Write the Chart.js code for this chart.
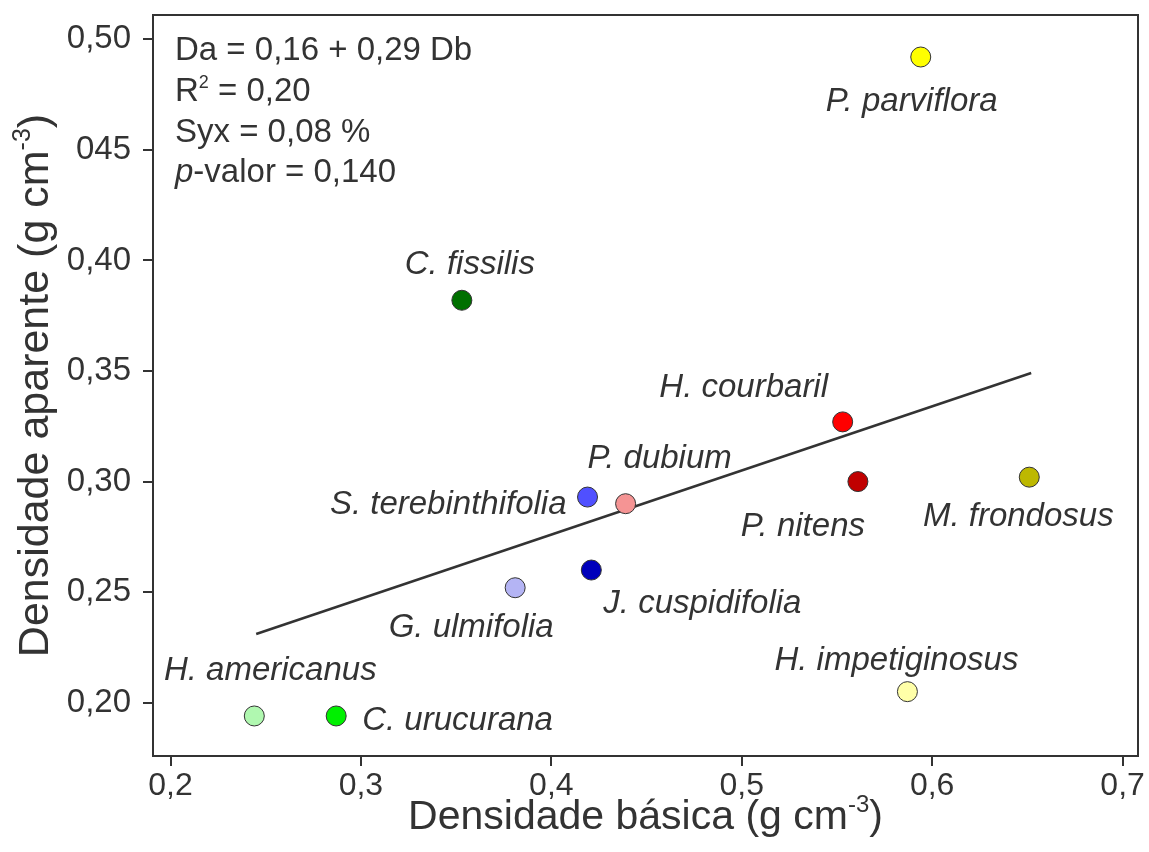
<!DOCTYPE html>
<html>
<head>
<meta charset="utf-8">
<title>Densidade aparente x densidade básica</title>
<script src="https://cdn.jsdelivr.net/npm/chart.js@4.4.1/dist/chart.umd.min.js"></script>
<style>
  html, body { margin: 0; padding: 0; background: #fff; }
  canvas { display: block; }
</style>
</head>
<body>
<canvas id="densidadeChart" width="1149" height="852"></canvas>
<script>
// species and wood densities (g cm-3)
const especies = [
  "P. parviflora", "C. fissilis", "H. courbaril", "P. nitens",
  "M. frondosus", "S. terebinthifolia", "P. dubium", "J. cuspidifolia",
  "G. ulmifolia", "H. impetiginosus", "H. americanus", "C. urucurana"
];
const densBasica = [0.594, 0.353, 0.553, 0.561, 0.651, 0.419, 0.439, 0.421, 0.381, 0.587, 0.244, 0.287];
const densAparente = [0.492, 0.382, 0.327, 0.300, 0.302, 0.293, 0.290, 0.260, 0.252, 0.205, 0.194, 0.194];
const corEspecie = [
  "#ffff00", "#007000", "#ff0000", "#c00000",
  "#bdb800", "#5050ff", "#f59494", "#0000bb",
  "#b4b4f4", "#ffffa8", "#b0f8b0", "#00f000"
];

const xTickVals = [0.2, 0.3, 0.4, 0.5, 0.6, 0.7];
const xTicks = ["0,2", "0,3", "0,4", "0,5", "0,6", "0,7"];
const yTickVals = [0.20, 0.25, 0.30, 0.35, 0.40, 0.45, 0.50];
const yTicks = ["0,20", "0,25", "0,30", "0,35", "0,40", "045", "0,50"];

// fitted model Da = a + b Db, drawn over the range of the data
const intercepto = 0.16;
const inclinacao = 0.29;
const retaX = [0.245, 0.652];

const INK = "#333333";
const FONTE = "'Liberation Sans', Arial, sans-serif";

// label offsets from each point: [dx, dy, align]
const rotulo = {
  "P. parviflora": [-9, 45, "center"],
  "C. fissilis": [8, -35, "center"],
  "H. courbaril": [-99, -34, "center"],
  "P. nitens": [-55, 45, "center"],
  "M. frondosus": [-11, 40, "center"],
  "S. terebinthifolia": [-21, 8, "right"],
  "P. dubium": [34, -45, "center"],
  "J. cuspidifolia": [12, 34, "left"],
  "G. ulmifolia": [-44, 40, "center"],
  "H. impetiginosus": [-11, -31, "center"],
  "H. americanus": [16, -45, "center"],
  "C. urucurana": [26, 5, "left"]
};

// draw a run of text pieces (normal / superscript / italic) from x
function escreve(ctx, partes, x, y) {
  partes.forEach((p) => {
    ctx.font = (p.italic ? "italic " : "") + p.size + "px " + FONTE;
    ctx.fillText(p.t, x, y - (p.rise || 0));
    x += ctx.measureText(p.t).width;
  });
}

function largura(ctx, partes) {
  return partes.reduce((w, p) => {
    ctx.font = (p.italic ? "italic " : "") + p.size + "px " + FONTE;
    return w + ctx.measureText(p.t).width;
  }, 0);
}

// keep the plot box fixed: no extra room for half tick labels
function semFolga(s) {
  s.paddingTop = 0;
  s.paddingBottom = 0;
  s.paddingLeft = 0;
  s.paddingRight = 0;
}

const tituloX = [
  { t: "Densidade básica (g cm", size: 41 },
  { t: "-3", size: 24, rise: 17 },
  { t: ")", size: 41 }
];
const tituloY = [
  { t: "Densidade aparente (g cm", size: 43 },
  { t: "-3", size: 25, rise: 18 },
  { t: ")", size: 43 }
];
const estatisticas = [
  [{ t: "Da = 0,16 + 0,29 Db", size: 33 }],
  [{ t: "R", size: 33 }, { t: "2", size: 18, rise: 13 }, { t: " = 0,20", size: 33 }],
  [{ t: "Syx = 0,08 %", size: 33 }],
  [{ t: "p", size: 33, italic: true }, { t: "-valor = 0,140", size: 33 }]
];

const textos = {
  id: "textos",
  beforeDraw(chart) {
    const ctx = chart.ctx;
    ctx.save();
    ctx.fillStyle = "#fff";
    ctx.fillRect(0, 0, chart.width, chart.height);
    ctx.restore();
  },
  afterDraw(chart) {
    const { ctx, chartArea: a, scales: { x, y } } = chart;
    ctx.save();
    ctx.strokeStyle = INK;
    ctx.lineWidth = 2;
    ctx.strokeRect(a.left, a.top, a.right - a.left, a.bottom - a.top);

    ctx.fillStyle = INK;
    ctx.font = "italic 33px " + FONTE;
    ctx.textBaseline = "middle";
    especies.forEach((nome, i) => {
      const [dx, dy, align] = rotulo[nome];
      ctx.textAlign = align;
      ctx.fillText(nome, x.getPixelForValue(densBasica[i]) + dx, y.getPixelForValue(densAparente[i]) + dy);
    });

    ctx.textAlign = "left";
    ctx.textBaseline = "alphabetic";
    const base = [60, 101, 142, 182];
    estatisticas.forEach((linha, i) => escreve(ctx, linha, a.left + 22, base[i]));

    // axis titles
    const cx = (a.left + a.right) / 2;
    escreve(ctx, tituloX, cx - largura(ctx, tituloX) / 2, 829);

    const cy = (a.top + a.bottom) / 2;
    ctx.translate(48, cy);
    ctx.rotate(-Math.PI / 2);
    escreve(ctx, tituloY, -largura(ctx, tituloY) / 2, 0);
    ctx.restore();
  }
};

new Chart(document.getElementById("densidadeChart"), {
  type: "scatter",
  data: {
    datasets: [
      {
        label: "Espécies",
        data: densBasica.map((v, i) => ({ x: v, y: densAparente[i] })),
        backgroundColor: corEspecie,
        borderColor: INK,
        borderWidth: 1,
        pointRadius: 10,
        order: 1
      },
      {
        type: "line",
        label: "Ajuste",
        data: retaX.map((v) => ({ x: v, y: intercepto + inclinacao * v })),
        borderColor: INK,
        borderWidth: 2.5,
        pointRadius: 0,
        fill: false,
        order: 2
      }
    ]
  },
  options: {
    responsive: false,
    animation: false,
    layout: { padding: { top: 15, right: 11, left: 0, bottom: 0 } },
    plugins: { legend: { display: false }, tooltip: { enabled: false } },
    scales: {
      x: {
        type: "linear",
        min: 0.1908,
        max: 0.7081,
        afterBuildTicks: (s) => { s.ticks = xTickVals.map((v) => ({ value: v })); },
        afterFit: (s) => { s.height = 96; semFolga(s); },
        ticks: {
          callback: (v, i) => xTicks[i],
          color: INK,
          font: { family: FONTE, size: 32 },
          padding: 1,
          maxRotation: 0,
          autoSkip: false
        },
        grid: { drawOnChartArea: false, color: INK, lineWidth: 2, tickLength: 10 },
        border: { color: INK, width: 2 }
      },
      y: {
        type: "linear",
        min: 0.1759,
        max: 0.511,
        afterBuildTicks: (s) => { s.ticks = yTickVals.map((v) => ({ value: v })); },
        afterFit: (s) => { s.width = 153; semFolga(s); },
        ticks: {
          callback: (v, i) => yTicks[i],
          color: INK,
          font: { family: FONTE, size: 33 },
          padding: 12,
          autoSkip: false
        },
        grid: { drawOnChartArea: false, color: INK, lineWidth: 2, tickLength: 10 },
        border: { color: INK, width: 2 }
      }
    }
  },
  plugins: [textos]
});
</script>
</body>
</html>
